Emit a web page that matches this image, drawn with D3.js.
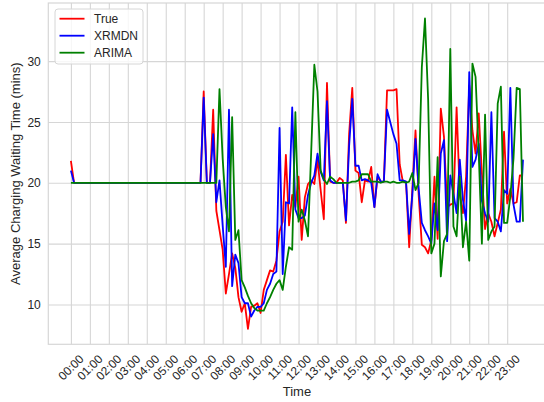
<!DOCTYPE html>
<html>
<head>
<meta charset="utf-8">
<script src="https://cdn.jsdelivr.net/npm/d3@7"></script>
<style>
  body { margin: 0; background: #fff; }
  svg { display: block; font-family: "Liberation Sans", Arial, sans-serif; }
</style>
</head>
<body>
<div id="chart"></div>
<script>
// 10 minute slots over one day (00:00 .. 23:50)
var timeSlots = d3.range(0, 1440, 10);

var hourLabels = ["00:00", "01:00", "02:00", "03:00", "04:00", "05:00", "06:00", "07:00",
  "08:00", "09:00", "10:00", "11:00", "12:00", "13:00", "14:00", "15:00",
  "16:00", "17:00", "18:00", "19:00", "20:00", "21:00", "22:00", "23:00"];
var yTicks = [10, 15, 20, 25, 30];

var trueValues = [
  21.8, 20, 20, 20, 20, 20, 20, 20, 20, 20, 20, 20,
  20, 20, 20, 20, 20, 20, 20, 20, 20, 20, 20, 20,
  20, 20, 20, 20, 20, 20, 20, 20, 20, 20, 20, 20,
  20, 20, 20, 20, 20, 20, 27.5, 20, 20, 26.0, 17.7, 16.1,
  14.5, 10.9, 12.5, 14.2, 13.0, 10.6, 9.4, 10.1, 8.0, 9.8, 9.9, 10.1,
  9.3, 11.2, 12.0, 12.8, 12.7, 13.6, 16.0, 16.8, 22.3, 16.5, 19.0, 18.0,
  20.5, 15.3, 18.8, 19.9, 20.2, 19.9, 21.9, 19.4, 17.0, 28.2, 20.1, 20.0,
  20.0, 20.4, 20.2, 16.7, 24.0, 27.8, 21.0, 20.8, 18.4, 20.2, 20.1, 21.3,
  18.0, 20.5, 20.1, 20.1, 27.6, 27.6, 27.6, 27.7, 21.5, 20.1, 20.1, 14.7,
  19.5, 24.3, 19.0, 14.9, 14.7, 14.2, 15.3, 20.5, 15.4, 26.1, 23.8, 18.0,
  18.2, 18.3, 26.2, 19.1, 17.5, 20.5, 28.0, 24.3, 22.4, 25.7, 20.8, 16.2,
  17.5, 16.8, 15.6, 16.7, 17.8, 24.2, 18.3, 19.5, 18.3, 18.4, 20.6, 20.6
];

var xrmdnValues = [
  21.0, 20, 20, 20, 20, 20, 20, 20, 20, 20, 20, 20,
  20, 20, 20, 20, 20, 20, 20, 20, 20, 20, 20, 20,
  20, 20, 20, 20, 20, 20, 20, 20, 20, 20, 20, 20,
  20, 20, 20, 20, 20, 20, 27.0, 20, 20, 24.0, 18.4, 20.2,
  16.5, 13.1, 26.0, 11.5, 14.1, 13.4, 10.6, 10.1, 10.1, 9.0, 9.5, 9.8,
  9.8, 10.1, 11.2, 11.7, 12.5, 12.7, 24.5, 12.5, 18.4, 18.3, 26.2, 17.8,
  17.1, 17.1, 17.3, 19.0, 20.0, 20.6, 22.4, 20.9, 20.2, 26.7, 20.2, 20.0,
  20.0, 20.0, 20.0, 16.9, 23.0, 26.9, 21.4, 21.4, 20.2, 20.3, 20.2, 20.0,
  18.0, 20.7, 20.1, 20.1, 26.0, 25.0, 24.0, 23.2, 20.2, 20.2, 20.1, 15.8,
  19.0, 23.6, 19.5, 16.7, 16.1, 15.6, 15.0, 18.3, 16.1, 22.4, 23.5, 15.2,
  20.6, 19.1, 17.5, 21.9, 18.6, 16.9, 29.1, 21.3, 21.9, 23.2, 18.5, 17.5,
  16.8, 25.8, 17.1, 16.8, 16.0, 19.4, 19.1, 27.8, 18.2, 16.8, 16.8, 21.9
];

var arimaValues = [
  20, 20, 20, 20, 20, 20, 20, 20, 20, 20, 20, 20,
  20, 20, 20, 20, 20, 20, 20, 20, 20, 20, 20, 20,
  20, 20, 20, 20, 20, 20, 20, 20, 20, 20, 20, 20,
  20, 20, 20, 20, 20, 20, 20, 20, 20, 20, 20, 27.7,
  22.0, 18.0, 16.0, 25.4, 15.3, 16.1, 12.0, 11.4, 10.7, 10.1, 9.7, 9.5,
  9.5, 9.5, 10.1, 10.6, 11.2, 11.7, 12.0, 11.2, 13.1, 14.7, 14.5, 25.8,
  16.8, 17.8, 16.9, 15.6, 22.5, 29.7, 27.5, 21.0, 20.3, 19.9, 20.5, 20.3,
  20.0, 20.0, 20.0, 20.0, 20.0, 20.1, 20.1, 20.2, 20.7, 20.7, 20.7, 20.1,
  20.1, 20.1, 20.0, 20.1, 20.1, 20.0, 20.1, 20.0, 20.0, 20.1, 20.0, 20.1,
  20.8, 19.4, 20.0, 29.5, 33.5, 26.8, 14.2, 15.0, 22.1, 12.3, 15.2, 15.8,
  31.0, 16.4, 15.6, 20.5, 14.7, 16.8, 13.6, 29.8, 28.7, 22.4, 15.0, 25.6,
  15.3, 16.0, 16.4, 26.5, 27.9, 16.7, 16.7, 18.9, 22.0, 27.8, 27.7, 16.8
];

var seriesNames = ["True", "XRMDN", "ARIMA"];
var seriesColors = ["#ff0000", "#0000ff", "#008000"];

// -----------------------------------------------------------------------------

var svgWidth = 544;
var svgHeight = 402;

var margin = {
  top: 3,
  left: 48.3
};

var width = 497.3;
var height = 341.3;

var svg = d3
  .select("#chart")
  .append("svg")
  .attr("width", svgWidth)
  .attr("height", svgHeight);

var chartGroup = svg.append("g")
  .attr("transform", `translate(${margin.left}, ${margin.top})`);

var allSeries = [trueValues, xrmdnValues, arimaValues];

// matplotlib style autoscale: 5% padding on both ends
var xPad = (d3.max(timeSlots) - d3.min(timeSlots)) * 0.05;
var xScale = d3.scaleLinear()
  .domain([d3.min(timeSlots) - xPad, d3.max(timeSlots) + xPad])
  .range([0, width]);

var yExtent = d3.extent(d3.merge(allSeries));
var yPad = (yExtent[1] - yExtent[0]) * 0.05;
var yScale = d3.scaleLinear()
  .domain([yExtent[0] - yPad, yExtent[1] + yPad])
  .range([height, 0]);

// -----------------------------------------------------------------------------

// axes double as the grid
var bottomAxis = d3.axisBottom(xScale)
  .tickValues(hourLabels.map((d, i) => i * 60))
  .tickFormat((d, i) => hourLabels[i])
  .tickSize(-height);

var leftAxis = d3.axisLeft(yScale)
  .tickValues(yTicks)
  .tickSize(-width);

var xAxis = chartGroup.append("g")
  .attr("transform", `translate(0, ${height})`)
  .call(bottomAxis);

var yAxis = chartGroup.append("g")
  .call(leftAxis);

[xAxis, yAxis].forEach(function(axis) {
  axis.select(".domain").remove();
  axis.selectAll("line")
    .attr("stroke", "#d6d6d6")
    .attr("stroke-width", 1.1);
  axis.selectAll("text")
    .attr("fill", "#262626")
    .style("font-size", "12px");
});

xAxis.selectAll("text")
  .attr("x", 0)
  .attr("y", 0)
  .attr("dy", null)
  .attr("text-anchor", "end")
  .attr("transform", "translate(13, 15.5) rotate(-45)");

yAxis.selectAll("text")
  .attr("x", -7.5)
  .attr("dy", "0.35em");

// frame
chartGroup.append("rect")
  .attr("width", width)
  .attr("height", height)
  .attr("fill", "none")
  .attr("stroke", "#d6d6d6")
  .attr("stroke-width", 1.2);

// -----------------------------------------------------------------------------

var line = d3.line()
  .x((d, i) => xScale(timeSlots[i]))
  .y(d => yScale(d));

chartGroup.selectAll(".series")
  .data(allSeries)
  .enter()
  .append("path")
  .attr("class", "series")
  .attr("d", line)
  .attr("fill", "none")
  .attr("stroke", (d, i) => seriesColors[i])
  .attr("stroke-width", 1.8)
  .attr("stroke-linejoin", "round");

// -----------------------------------------------------------------------------

var legend = svg.append("g")
  .attr("transform", "translate(55, 9)");

legend.append("rect")
  .attr("width", 88)
  .attr("height", 55)
  .attr("rx", 3)
  .attr("fill", "#fff")
  .attr("fill-opacity", 0.8)
  .attr("stroke", "#d6d6d6");

var legendItems = legend.selectAll(".item")
  .data(seriesNames)
  .enter()
  .append("g")
  .attr("class", "item")
  .attr("transform", (d, i) => `translate(0, ${9.7 + i * 17})`);

legendItems.append("line")
  .attr("x1", 4.5)
  .attr("x2", 29.5)
  .attr("stroke", (d, i) => seriesColors[i])
  .attr("stroke-width", 1.8);

legendItems.append("text")
  .attr("x", 39)
  .attr("dy", "0.35em")
  .attr("fill", "#262626")
  .style("font-size", "12px")
  .text(d => d);

// axis labels
svg.append("text")
  .attr("x", margin.left + width / 2)
  .attr("y", 396)
  .attr("text-anchor", "middle")
  .attr("fill", "#262626")
  .style("font-size", "13px")
  .text("Time");

svg.append("text")
  .attr("transform", `translate(19.5, ${margin.top + height / 2}) rotate(-90)`)
  .attr("text-anchor", "middle")
  .attr("fill", "#262626")
  .style("font-size", "13px")
  .text("Average Charging Waiting Time (mins)");
</script>
</body>
</html>
